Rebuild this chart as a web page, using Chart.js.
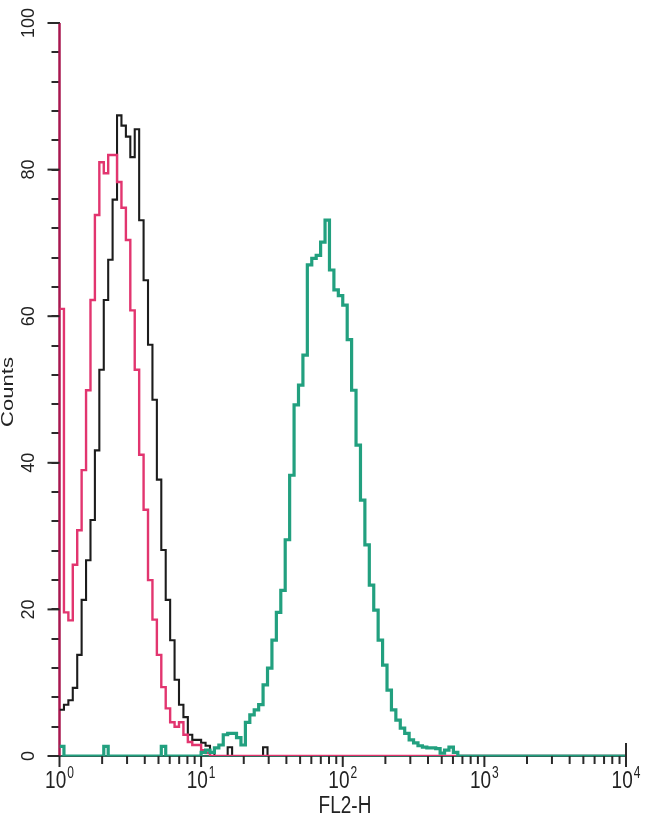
<!DOCTYPE html>
<html>
<head>
<meta charset="utf-8">
<script src="https://cdn.jsdelivr.net/npm/chart.js@4"></script>
<style>
  html, body { margin: 0; padding: 0; background: #fff; }
  canvas { display: block; }
</style>
</head>
<body>
<canvas id="facsChart" width="650" height="819"></canvas>
<script>
// FL2-H bin edges (1/32 decade per bin, 10^0 .. 10^4)
const fl2Edges = [
  1, 1.075, 1.155, 1.241, 1.334, 1.433, 1.540, 1.655, 1.778, 1.911, 2.054, 2.207, 2.371, 2.548, 2.738, 2.943,
  3.162, 3.398, 3.652, 3.924, 4.217, 4.532, 4.870, 5.233, 5.623, 6.043, 6.494, 6.978, 7.499, 8.058, 8.660, 9.306,
  10, 10.75, 11.55, 12.41, 13.34, 14.33, 15.40, 16.55, 17.78, 19.11, 20.54, 22.07, 23.71, 25.48, 27.38, 29.43,
  31.62, 33.98, 36.52, 39.24, 42.17, 45.32, 48.70, 52.33, 56.23, 60.43, 64.94, 69.78, 74.99, 80.58, 86.60, 93.06,
  100, 107.5, 115.5, 124.1, 133.4, 143.3, 154.0, 165.5, 177.8, 191.1, 205.4, 220.7, 237.1, 254.8, 273.8, 294.3,
  316.2, 339.8, 365.2, 392.4, 421.7, 453.2, 487.0, 523.3, 562.3, 604.3, 649.4, 697.8, 749.9, 805.8, 866.0, 930.6,
  1000, 1075, 1155, 1241, 1334, 1433, 1540, 1655, 1778, 1911, 2054, 2207, 2371, 2548, 2738, 2943,
  3162, 3398, 3652, 3924, 4217, 4532, 4870, 5233, 5623, 6043, 6494, 6978, 7499, 8058, 8660, 9306,
  10000
];

// counts per bin
const blackCounts = [
  6.3, 7.0, 7.6, 9.3, 13.8, 21.3, 26.7, 32.2, 41.7, 52.7, 62.2, 67.7, 75.9, 87.4, 86.0, 84.5,
  81.7, 85.5, 73.1, 64.9, 56.1, 48.6, 37.7, 28.1, 21.3, 15.8, 10.4, 7.0, 5.3, 2.9, 2.2, 2.2,
  1.8, 1.4, 0.5, 0, 0, 0, 1.2, 0, 0, 0, 0, 0, 0, 0, 1.2, 0,
  0, 0, 0, 0, 0, 0, 0, 0, 0, 0, 0, 0, 0, 0, 0, 0,
  0, 0, 0, 0, 0, 0, 0, 0, 0, 0, 0, 0, 0, 0, 0, 0,
  0, 0, 0, 0, 0, 0, 0, 0, 0, 0, 0, 0, 0, 0, 0, 0,
  0, 0, 0, 0, 0, 0, 0, 0, 0, 0, 0, 0, 0, 0, 0, 0,
  0, 0, 0, 0, 0, 0, 0, 0, 0, 0, 0, 0, 0, 0, 0, 0
];

const redCounts = [
  61, 19.6, 18.5, 26.1, 30.8, 39.0, 49.9, 62.2, 73.8, 81.0, 79.5, 82.0, 82.0, 78.3, 74.8, 70.4,
  60.8, 52.7, 41.1, 33.6, 24.0, 18.6, 13.8, 9.4, 6.5, 4.6, 4.0, 4.6, 2.9, 1.9, 1.5, 1.5,
  0.8, 0.4, 0, 0, 0, 0, 0, 0, 0, 0, 0, 0, 0, 0, 0, 0,
  0, 0, 0, 0, 0, 0, 0, 0, 0, 0, 0, 0, 0, 0, 0, 0,
  0, 0, 0, 0, 0, 0, 0, 0, 0, 0, 0, 0, 0, 0, 0, 0,
  0, 0, 0, 0, 0, 0, 0, 0, 0, 0, 0, 0, 0, 0, 0, 0,
  0, 0, 0, 0, 0, 0, 0, 0, 0, 0, 0, 0, 0, 0, 0, 0,
  0, 0, 0, 0, 0, 0, 0, 0, 0, 0, 0, 0, 0, 0, 0, 0
];

const greenCounts = [
  1.3, 0, 0, 0, 0, 0, 0, 0, 0, 0, 1.3, 0, 0, 0, 0, 0,
  0, 0, 0, 0, 0, 0, 0, 1.3, 0, 0, 0, 0, 0, 0, 0, 0,
  0.5, 0.8, 0.5, 1.1, 1.5, 2.9, 3.1, 3.1, 2.5, 1.5, 4.6, 5.6, 6.3, 7.0, 9.7, 12.0,
  15.8, 19.6, 22.6, 29.5, 38.3, 47.9, 50.6, 54.7, 67.0, 67.9, 68.3, 70.1, 73.1, 66.3, 63.6, 62.8,
  61.5, 56.8, 49.9, 42.4, 34.9, 28.8, 23.3, 19.9, 15.8, 12.4, 9.0, 6.3, 4.9, 3.8, 3.1, 2.2,
  1.8, 1.4, 1.2, 1.1, 1.1, 1.0, 0.4, 0.8, 1.2, 0.5, 0, 0, 0, 0, 0, 0,
  0, 0, 0, 0, 0, 0, 0, 0, 0, 0, 0, 0, 0, 0, 0, 0,
  0, 0, 0, 0, 0, 0, 0, 0, 0, 0, 0, 0, 0, 0, 0, 0
];

const decades = [1, 10, 100, 1000, 10000];
const decadeExponents = ['0', '1', '2', '3', '4'];
const countLabels = [0, 20, 40, 60, 80, 100];
const countStep = 4;

// histogram points: each bin holds its count up to the next edge
function toSteps(counts) {
  return fl2Edges.map((x, i) => ({ x: x, y: counts[Math.min(i, counts.length - 1)] }));
}

function drawSeg(ctx, x1, y1, x2, y2) {
  ctx.beginPath();
  ctx.moveTo(x1, y1);
  ctx.lineTo(x2, y2);
  ctx.stroke();
}

// scanned look: the text in the original is stretched vertically
function stretchedText(ctx, text, x, y, size, rotated, stretch) {
  ctx.save();
  ctx.translate(x, y);
  ctx.scale(1, stretch);
  if (rotated) ctx.rotate(-Math.PI / 2);
  ctx.font = size + 'px "Liberation Sans", Arial, sans-serif';
  ctx.textAlign = 'center';
  ctx.textBaseline = 'middle';
  ctx.fillText(text, 0, 0);
  ctx.restore();
}

const facsAxes = {
  id: 'facsAxes',
  beforeDatasetsDraw(chart) {
    const { ctx, scales: { x, y } } = chart;
    const x0 = x.getPixelForValue(1);
    const xEnd = x.getPixelForValue(10000);
    const y0 = y.getPixelForValue(0);
    const yTop = y.getPixelForValue(100);
    ctx.save();
    ctx.strokeStyle = '#2d6e5e';
    ctx.lineWidth = 2;
    drawSeg(ctx, x0, y0, xEnd, y0);
    ctx.strokeStyle = '#a8174f';
    ctx.lineWidth = 2.5;
    drawSeg(ctx, x0, yTop, x0, y0);
    ctx.restore();
  },
  afterDraw(chart) {
    const { ctx, scales: { x, y } } = chart;
    const x0 = x.getPixelForValue(1);
    const xEnd = x.getPixelForValue(10000);
    const y0 = y.getPixelForValue(0);
    ctx.save();
    ctx.strokeStyle = '#2a2a2a';
    ctx.lineWidth = 2;
    // longer marks at labelled counts
    countLabels.forEach(v => {
      const py = y.getPixelForValue(v);
      drawSeg(ctx, x0 - 12, py, x0, py);
    });
    decades.forEach(d => {
      const px = x.getPixelForValue(d);
      drawSeg(ctx, px, y0, px, y0 + 11);
      if (d < 10000) {
        for (let m = 2; m <= 9; m++) {
          const mx = x.getPixelForValue(d * m);
          drawSeg(ctx, mx, y0, mx, y0 + 8);
        }
      }
    });
    drawSeg(ctx, xEnd, y0 - 13, xEnd, y0);

    // labels
    ctx.fillStyle = '#222';
    countLabels.forEach(v => {
      stretchedText(ctx, String(v), 29, y.getPixelForValue(v), 18, true, 1);
    });
    decades.forEach((d, i) => {
      const px = x.getPixelForValue(d);
      ctx.font = '19px "Liberation Sans", Arial, sans-serif';
      const wBase = ctx.measureText('10').width;
      ctx.font = '12px "Liberation Sans", Arial, sans-serif';
      const wExp = ctx.measureText(decadeExponents[i]).width;
      const left = px - (wBase + wExp + 1) / 2;
      ctx.save();
      ctx.translate(left, y0 + 32);
      ctx.scale(1, 1.3);
      ctx.textAlign = 'left';
      ctx.textBaseline = 'alphabetic';
      ctx.font = '19px "Liberation Sans", Arial, sans-serif';
      ctx.fillText('10', 0, 0);
      ctx.font = '12px "Liberation Sans", Arial, sans-serif';
      ctx.fillText(decadeExponents[i], wBase + 1, -8);
      ctx.restore();
    });
    stretchedText(ctx, 'FL2-H', 345, 806, 19, false, 1.3);
    stretchedText(ctx, 'Counts', 8, 392, 17, true, 1.3);
    ctx.restore();
  }
};

new Chart(document.getElementById('facsChart'), {
  type: 'line',
  data: {
    datasets: [
      {
        label: 'stained',
        data: toSteps(greenCounts),
        borderColor: '#22a07f',
        borderWidth: 3.2,
        stepped: 'before',
        pointRadius: 0,
        order: 1
      },
      {
        label: 'isotype',
        data: toSteps(redCounts),
        borderColor: '#e2356f',
        borderWidth: 2.4,
        stepped: 'before',
        pointRadius: 0,
        order: 2
      },
      {
        label: 'unstained',
        data: toSteps(blackCounts),
        borderColor: '#1c1c1c',
        borderWidth: 2.1,
        stepped: 'before',
        pointRadius: 0,
        order: 3
      }
    ]
  },
  options: {
    responsive: false,
    animation: false,
    layout: { padding: { left: 0, right: 24, top: 23, bottom: 63 } },
    plugins: { legend: { display: false }, tooltip: { enabled: false } },
    scales: {
      x: { type: 'logarithmic', min: 1, max: 10000, display: false },
      y: {
        type: 'linear',
        min: 0,
        max: 100,
        display: true,
        border: { display: false },
        grid: { drawOnChartArea: false, drawTicks: true, tickLength: 8, color: '#2a2a2a', lineWidth: 2 },
        ticks: { stepSize: countStep, display: false },
        afterFit(scale) { scale.width = 59.5; }
      }
    }
  },
  plugins: [facsAxes]
});
</script>
</body>
</html>
